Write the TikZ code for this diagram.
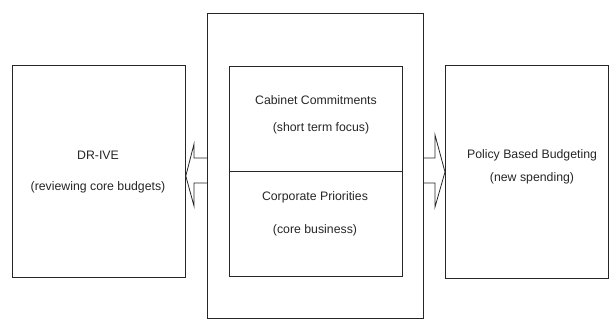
\documentclass[tikz,border=0pt]{standalone}
\usepackage{fontspec}
\setmainfont{Liberation Sans}
\usetikzlibrary{calc}
\tikzset{
  box/.style={draw=black!85, line width=0.8pt, inner sep=0pt, anchor=north west},
  lbl/.style={font=\fontsize{12.3}{14}\selectfont, text=black!85, inner sep=0pt},
  blockarrow/.style={draw=black!85, line width=0.8pt, line join=miter}
}
\begin{document}
\begin{tikzpicture}[x=1pt,y=-1pt]
\useasboundingbox (0,0) rectangle (609,329);
% boxes
\node[box, minimum width=173pt, minimum height=212pt] (left) at (12,65) {};
\node[box, minimum width=216pt, minimum height=305pt] (outer) at (207,13) {};
\node[box, minimum width=173pt, minimum height=105pt] (cab) at (229,66) {};
\node[box, minimum width=173pt, minimum height=105pt] (corp) at (229,171) {};
\node[box, minimum width=163pt, minimum height=213pt] (right) at (445,65) {};
% texts
\node[lbl] (t1) at (98,155) {DR-IVE};
\node[lbl] (t2) at (98,187) {(reviewing core budgets)};
\node[lbl] (t3) at (316,100) {Cabinet Commitments};
\node[lbl] (t4) at (321,128) {(short term focus)};
\node[lbl] (t5) at (315,197) {Corporate Priorities};
\node[lbl] (t6) at (315,230) {(core business)};
\node[lbl] (t7) at (532,155) {Policy Based Budgeting};
\node[lbl] (t8) at (532,178) {(new spending)};
% block arrows
\draw[blockarrow] (outer.west |- {(0,158)}) -- (194,158) -- (194,144)
  -- (left.east |- {(0,176)}) -- (194,206) -- (194,183) -- (outer.west |- {(0,183)});
\draw[blockarrow] (outer.east |- {(0,158)}) -- (435,158) -- (435,135)
  -- (right.west |- {(0,172)}) -- (435,207) -- (435,183) -- (outer.east |- {(0,183)});
\end{tikzpicture}
\end{document}
